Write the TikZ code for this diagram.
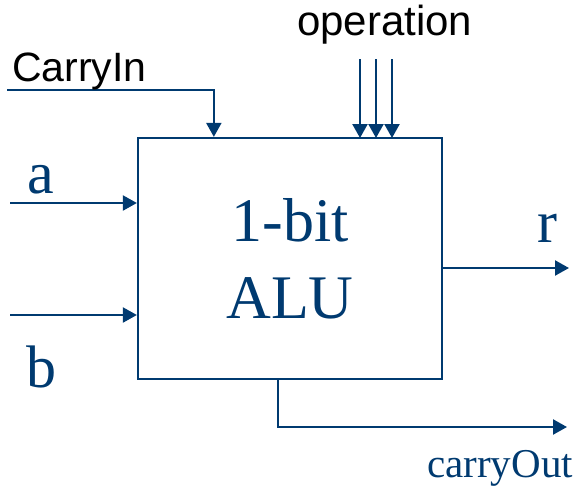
\documentclass[tikz,border=0pt]{standalone}
\usepackage{fontspec}
\setmainfont{Liberation Serif}
\setsansfont{Liberation Sans}
\usepackage{tikz}
\usetikzlibrary{positioning, arrows.meta, calc}
\definecolor{alublue}{HTML}{003A70}
\tikzset{
    alubox/.style={
        rectangle,
        draw=alublue,
        line width=2.3pt,
        minimum width=304pt,
        minimum height=241pt,
        inner sep=0pt,
        text=alublue,
        align=center,
        font=\fontsize{62}{77}\selectfont
    },
    wire/.style={
        draw=alublue,
        line width=2.3pt,
        -{Triangle[length=14pt,width=15pt]}
    },
    sanslabel/.style={
        anchor=base west,
        inner sep=0pt,
        font=\sffamily\fontsize{41}{41}\selectfont
    },
    seriflabel/.style={
        anchor=base west,
        inner sep=0pt,
        text=alublue,
        font=\fontsize{60}{60}\selectfont
    }
}

\begin{document}
\begin{tikzpicture}[x=1pt,y=-1pt]
\useasboundingbox (0,0) rectangle (582,488);

%---------------- ALU box ----------------

\node[alubox] (alu) at (290,258.5) {1-bit\\ALU};

%---------------- Inputs ----------------

\coordinate (cin) at (7,90);
\coordinate (cinend) at ([xshift=77pt]alu.north west);
\draw[wire] (cin) -| (cinend);
\node[sanslabel] (cinlabel) at (12,81) {CarryIn};

\foreach \i/\x in {1/360,2/376,3/392}{
    \coordinate (op\i) at (\x,59);
    \coordinate (opend\i) at (\x,138);
    \draw[wire] (op\i) -- (opend\i);
}
\node[sanslabel, font=\sffamily\fontsize{42}{42}\selectfont] (oplabel) at (297,35) {operation};

\coordinate (ain) at (10,203);
\coordinate (aend) at (alu.west |- ain);
\draw[wire] (ain) -- (aend);
\node[seriflabel] (alabel) at (27,193) {a};

\coordinate (bin) at (10,315);
\coordinate (bend) at (alu.west |- bin);
\draw[wire] (bin) -- (bend);
\node[seriflabel] (blabel) at (26,387) {b};

%---------------- Outputs ----------------

\coordinate (rstart) at (alu.east |- 0,268);
\coordinate (rend) at (569,268);
\draw[wire] (rstart) -- (rend);
\node[seriflabel] (rlabel) at (537,242) {r};

\coordinate (cout) at ([xshift=141pt]alu.south west);
\coordinate (coutend) at (567,427);
\draw[wire] (cout) |- (coutend);
\node[seriflabel, font=\fontsize{41}{41}\selectfont] (coutlabel) at (427,477) {carryOut};

\end{tikzpicture}
\end{document}
